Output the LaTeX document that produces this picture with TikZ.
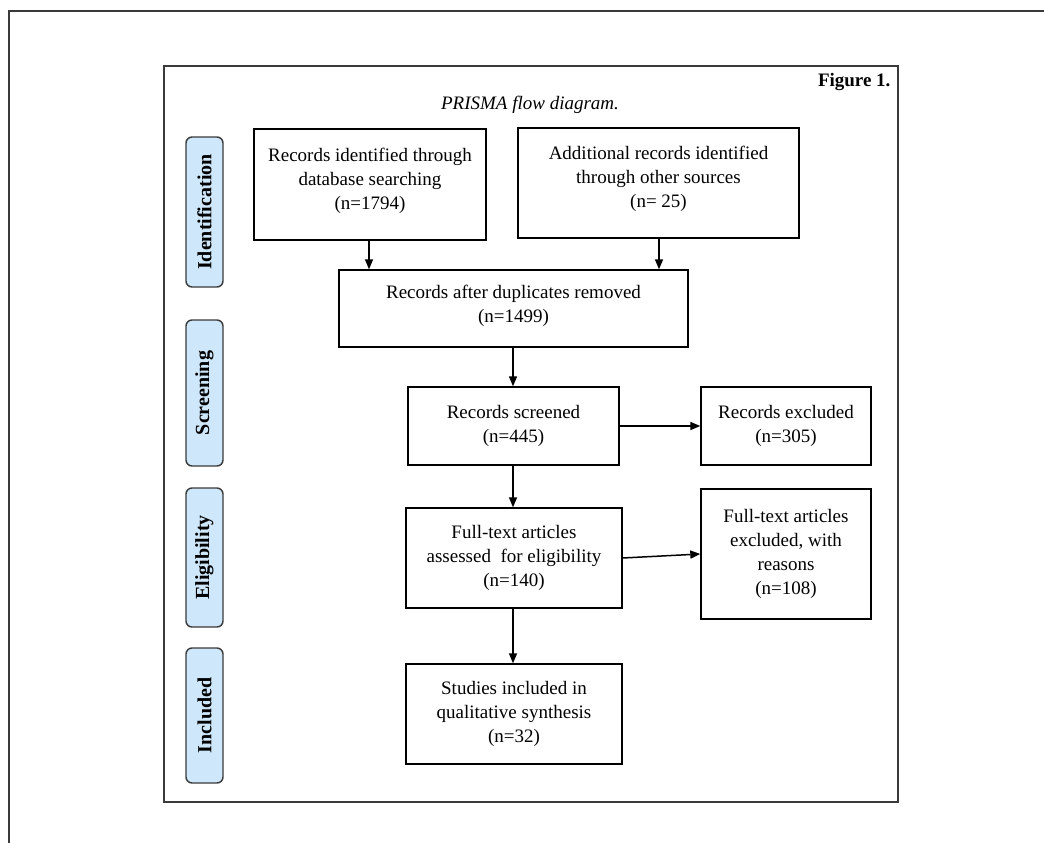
\documentclass[tikz,border=0pt]{standalone}
\usepackage{fontspec}
\setmainfont{Liberation Serif}
\usetikzlibrary{arrows.meta}
\definecolor{pillfill}{HTML}{CFE7FA}
\definecolor{framecol}{HTML}{3A3A3A}
\begin{document}
\begin{tikzpicture}[x=1pt,y=-1pt,
  box/.style={draw=black, line width=1.4pt, align=center, inner sep=0pt,
    font=\fontsize{19}{24}\selectfont},
  phase/.style={draw=framecol, fill=pillfill, rounded corners=6pt, line width=1.4pt,
    minimum height=37pt, inner sep=0pt, rotate=90,
    font=\fontsize{20}{22}\selectfont\bfseries},
  arr/.style={-{Triangle[length=10pt,width=8pt]}, line width=1.5pt}]
\useasboundingbox (0,0) rectangle (1044,843);
% page frame lines
\draw[framecol, line width=1.2pt] (9,843) -- (9,11) -- (1044,11);
% figure frame
\draw[framecol, line width=1.5pt] (164,66) rectangle (898,802);
\node[anchor=base east, font=\fontsize{19}{24}\selectfont\bfseries] (fig) at (894,86) {Figure 1.};
\node[anchor=base, font=\fontsize{19}{24}\selectfont\itshape] (title) at (530,110) {PRISMA flow diagram.};
% phase labels
\node[phase, minimum width=150pt] (pid) at (204.5,212) {Identification};
\node[phase, minimum width=146pt] (psc) at (204.5,393) {Screening};
\node[phase, minimum width=139pt] (pel) at (204.5,557.5) {Eligibility};
\node[phase, minimum width=135pt] (pin) at (204.5,715.5) {Included};
% boxes
\node[box, minimum width=232pt, minimum height=111pt, text depth=12pt] (b1) at (370,184.5)
  {Records identified through\\database searching\\(n=1794)};
\node[box, minimum width=281pt, minimum height=110pt, text depth=12pt] (b2) at (658.5,183)
  {Additional records identified\\through other sources\\(n= 25)};
\node[box, minimum width=349pt, minimum height=77pt, text depth=10pt] (b3) at (513.5,308.5)
  {Records after duplicates removed\\(n=1499)};
\node[box, minimum width=211pt, minimum height=78pt] (b4) at (513.5,426)
  {Records screened\\(n=445)};
\node[box, minimum width=170pt, minimum height=78pt] (e1) at (786,426)
  {Records excluded\\(n=305)};
\node[box, minimum width=216pt, minimum height=100pt] (b5) at (514,558)
  {Full-text articles\\assessed\ \ for eligibility\\(n=140)};
\node[box, minimum width=170pt, minimum height=130pt] (e2) at (786,554)
  {Full-text articles\\excluded, with\\reasons\\(n=108)};
\node[box, minimum width=216pt, minimum height=100pt] (b6) at (514,714)
  {Studies included in\\qualitative synthesis\\(n=32)};
% connectors
\draw[arr] (b1.south -| 369,0) -- (b3.north -| 369,0);
\draw[arr] (b2.south -| 659,0) -- (b3.north -| 659,0);
\draw[arr] (b3.south -| 513,0) -- (b4.north -| 513,0);
\draw[arr] (b4.south -| 513,0) -- (b5.north -| 513,0);
\draw[arr] (b5.south -| 513,0) -- (b6.north -| 513,0);
\draw[arr] (b4) -- (e1);
\draw[arr] (b5.east) -- (e2.west);
\end{tikzpicture}
\end{document}
